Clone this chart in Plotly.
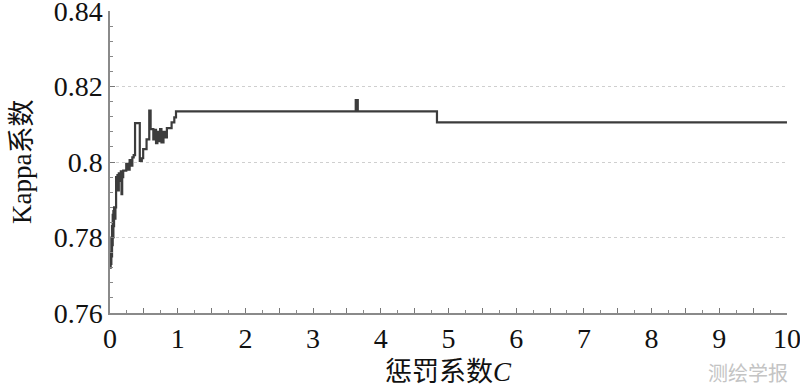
import plotly.graph_objects as go

# Penalty coefficient C (step start positions) and Kappa coefficient values
penalty_c = [0.000, 0.010, 0.015, 0.020, 0.025, 0.030, 0.035, 0.040, 0.045, 0.050,
             0.055, 0.060, 0.070, 0.080, 0.090, 0.100, 0.110, 0.120, 0.130, 0.145,
             0.160, 0.170, 0.180, 0.195, 0.240, 0.270, 0.290, 0.310, 0.330, 0.350,
             0.370, 0.440, 0.470, 0.490, 0.540, 0.580, 0.600, 0.640, 0.660, 0.680,
             0.700, 0.720, 0.740, 0.760, 0.790, 0.820, 0.840, 0.910, 0.950, 0.975,
             3.630, 3.660, 4.830, 10.000]
kappa = [0.7720, 0.7760, 0.7730, 0.7800, 0.7750, 0.7830, 0.7780, 0.7860, 0.7800, 0.7870,
         0.7830, 0.7880, 0.7850, 0.7880, 0.7960, 0.7935, 0.7965, 0.7925, 0.7970, 0.7950,
         0.7975, 0.7915, 0.7960, 0.7977, 0.7995, 0.7980, 0.8005, 0.7990, 0.8012, 0.8018,
         0.8103, 0.8003, 0.8010, 0.8034, 0.8060, 0.8136, 0.8087, 0.8060, 0.8085, 0.8050,
         0.8080, 0.8055, 0.8087, 0.8052, 0.8080, 0.8065, 0.8090, 0.8105, 0.8118, 0.8134,
         0.8164, 0.8134, 0.8105, 0.8105]

x_tickvals = [i * 0.5 for i in range(21)]
x_ticktext = [str(int(v)) if v == int(v) else "" for v in x_tickvals]
y_tickvals = [0.76, 0.78, 0.80, 0.82, 0.84]
y_ticktext = ["0.76", "0.78", "0.8", "0.82", "0.84"]

serif = "Liberation Serif"
cjk = "Liberation Serif, Noto Sans CJK SC"

fig = go.Figure()
fig.add_trace(go.Scatter(
    x=penalty_c, y=kappa, mode="lines",
    line=dict(color="#3c3c3c", width=2.2, shape="hv"),
    showlegend=False, hoverinfo="skip"))

fig.update_layout(
    width=800, height=390,
    margin=dict(l=110, r=13, t=11, b=77),
    paper_bgcolor="white", plot_bgcolor="white",
    font=dict(family=serif, color="#111111"),
    xaxis=dict(
        range=[0, 10.0005], tickvals=x_tickvals, ticktext=x_ticktext,
        ticks="inside", ticklen=5, tickwidth=1, tickcolor="#777777",
        minor=dict(dtick=0.25, tick0=0, ticks="inside", ticklen=3, tickcolor="#888888", showgrid=False),
        showline=True, linecolor="#8a8a8a", linewidth=1.5,
        showgrid=False, zeroline=False, ticklabeloverflow="allow", automargin=False,
        tickfont=dict(family=serif, size=28, color="#111111"),
    ),
    yaxis=dict(
        range=[0.75999, 0.84001], tickvals=y_tickvals, ticktext=y_ticktext,
        ticks="inside", ticklen=5, tickwidth=1, tickcolor="#777777",
        minor=dict(dtick=0.004, tick0=0.76, ticks="inside", ticklen=3, tickcolor="#888888", showgrid=False),
        showline=True, linecolor="#8a8a8a", linewidth=1.5,
        showgrid=True, gridcolor="#cfcfcf", gridwidth=1, griddash="dot",
        zeroline=False, ticklabeloverflow="allow", automargin=False,
        tickfont=dict(family=serif, size=28, color="#111111"),
    ),
    annotations=[
        dict(text="Kappa系数", xref="paper", yref="paper", x=0, y=0.5,
             xanchor="center", yanchor="middle", xshift=-88, textangle=-90,
             showarrow=False, font=dict(family=cjk, size=27, color="#111111")),
        dict(text="惩罚系数<i>C</i>", xref="paper", yref="paper", x=0.5, y=0,
             xanchor="center", yanchor="middle", yshift=-59,
             showarrow=False, font=dict(family=cjk, size=27, color="#111111")),
        dict(text="测绘学报", xref="paper", yref="paper", x=1, y=0,
             xanchor="right", yanchor="middle", xshift=3, yshift=-59,
             showarrow=False, font=dict(family="Noto Sans CJK SC", size=20, color="#c4c4c4")),
    ],
)

fig.write_html("out.html", config={"displayModeBar": False},
               post_script="document.body.style.margin='0';document.body.style.overflow='hidden';")
